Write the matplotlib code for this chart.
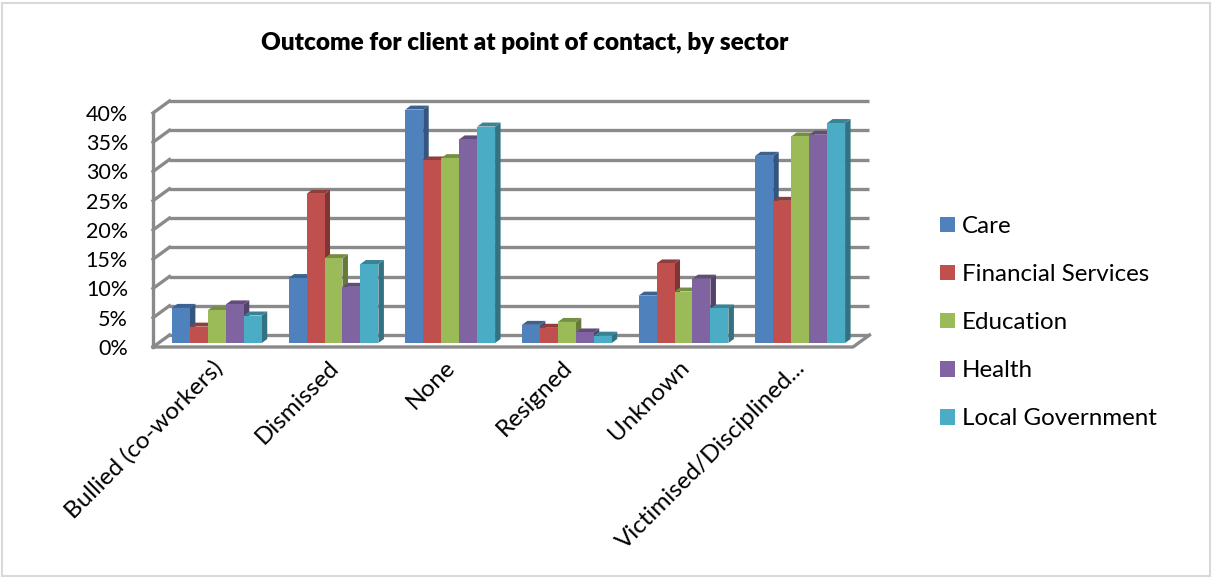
import numpy as np
import matplotlib.pyplot as plt
from matplotlib.patches import Polygon, Patch, Rectangle
from matplotlib.colors import to_rgb

plt.rcParams['font.family'] = ['Lato', 'DejaVu Sans']

categories = ['Bullied (co-workers)', 'Dismissed', 'None', 'Resigned', 'Unknown',
              'Victimised/Disciplined...']
sectors = ['Care', 'Financial Services', 'Education', 'Health', 'Local Government']

# share of cases (%) per outcome, one list per sector
care = [6.0, 11.1, 39.9, 3.1, 8.1, 32.0]
financial = [2.8, 25.5, 31.2, 2.6, 13.6, 24.3]
education = [5.6, 14.5, 31.6, 3.6, 8.8, 35.3]
health = [6.6, 9.6, 34.8, 1.8, 11.0, 35.6]
local_gov = [4.7, 13.5, 37.0, 1.25, 5.9, 37.6]

yticks = [0, 5, 10, 15, 20, 25, 30, 35, 40]
colors = ['#4F81BD', '#C0504D', '#9BBB59', '#8064A2', '#4BACC6']
series = [care, financial, education, health, local_gov]


def shade(c, f):
    return tuple(np.array(to_rgb(c)) * f)


W, H = 1213, 578
fig = plt.figure(figsize=(W / 100, H / 100), dpi=100)
ax = fig.add_axes([153 / W, 1 - 347 / H, 716.5 / W, 246 / H])
ax.set_facecolor('none')

n_cat = len(categories)
wall_dx, wall_dy = 0.1414, 2.05       # oblique offset floor front -> back wall
bar_dx, bar_dy = wall_dx / 3, wall_dy / 3  # bars sit in the middle third
w = 0.154

ax.set_xlim(-0.5, n_cat - 0.5 + wall_dx)
ax.set_ylim(0, yticks[-1] + wall_dy)

grid = '#8a8a8a'
lw = 2.4
for v in yticks:
    ax.plot([-0.5 + wall_dx, n_cat - 0.5 + wall_dx], [v + wall_dy] * 2,
            color=grid, lw=lw, clip_on=False, zorder=1, solid_capstyle='butt')
    ax.plot([-0.5, -0.5 + wall_dx], [v, v + wall_dy],
            color=grid, lw=lw, clip_on=False, zorder=1)
ax.plot([-0.5, -0.5], [0, yticks[-1]], color=grid, lw=lw, clip_on=False, zorder=1)
ax.plot([-0.5, n_cat - 0.5, n_cat - 0.5 + wall_dx], [0, 0, wall_dy],
        color=grid, lw=lw, clip_on=False, zorder=1)

for k, (vals, c) in enumerate(zip(series, colors)):
    xs = np.arange(n_cat) + (k - 2) * w + bar_dx
    for x, v in zip(xs, vals):
        L, R = x - w / 2, x + w / 2
        side = Polygon([(R, bar_dy), (R + bar_dx, 2 * bar_dy),
                        (R + bar_dx, 2 * bar_dy + v), (R, bar_dy + v)],
                       closed=True, facecolor=shade(c, 0.66), edgecolor='none',
                       zorder=3 + 2 * k, clip_on=False)
        top = Polygon([(L, bar_dy + v), (R, bar_dy + v),
                       (R + bar_dx, 2 * bar_dy + v), (L + bar_dx, 2 * bar_dy + v)],
                      closed=True, facecolor=shade(c, 0.76), edgecolor='none',
                      zorder=3 + 2 * k, clip_on=False)
        ax.add_patch(side)
        ax.add_patch(top)
    ax.bar(xs, vals, width=w, bottom=bar_dy, color=c, zorder=4 + 2 * k,
           clip_on=False)

for s in ax.spines.values():
    s.set_visible(False)
ax.set_yticks(yticks, labels=[f'{v}%' for v in yticks])
ax.set_xticks(np.arange(n_cat), labels=categories, rotation=45, ha='right',
              rotation_mode='anchor')
ax.tick_params(axis='y', length=0, pad=18, labelsize=15.5)
ax.tick_params(axis='x', length=0, pad=7, labelsize=17.5)

fig.text(525 / W, 1 - 50 / H, 'Outcome for client at point of contact, by sector',
         ha='center', va='baseline', fontsize=17.5, fontweight='heavy')

handles = [Patch(facecolor=c, label=s) for c, s in zip(colors, sectors)]
fig.legend(handles=handles, loc='upper left', bbox_to_anchor=(940 / W, 1 - 216 / H),
           frameon=False, fontsize=17.4, handlelength=0.62, handleheight=0.62,
           handletextpad=0.3, labelspacing=1.12, borderpad=0, borderaxespad=0)

fig.add_artist(Rectangle((2 / W, 2 / H), 1 - 5 / W, 1 - 5 / H, transform=fig.transFigure,
                         fill=False, edgecolor='#d9d9d9', lw=1.5))

fig.savefig('out.png', dpi=100, facecolor='white')
